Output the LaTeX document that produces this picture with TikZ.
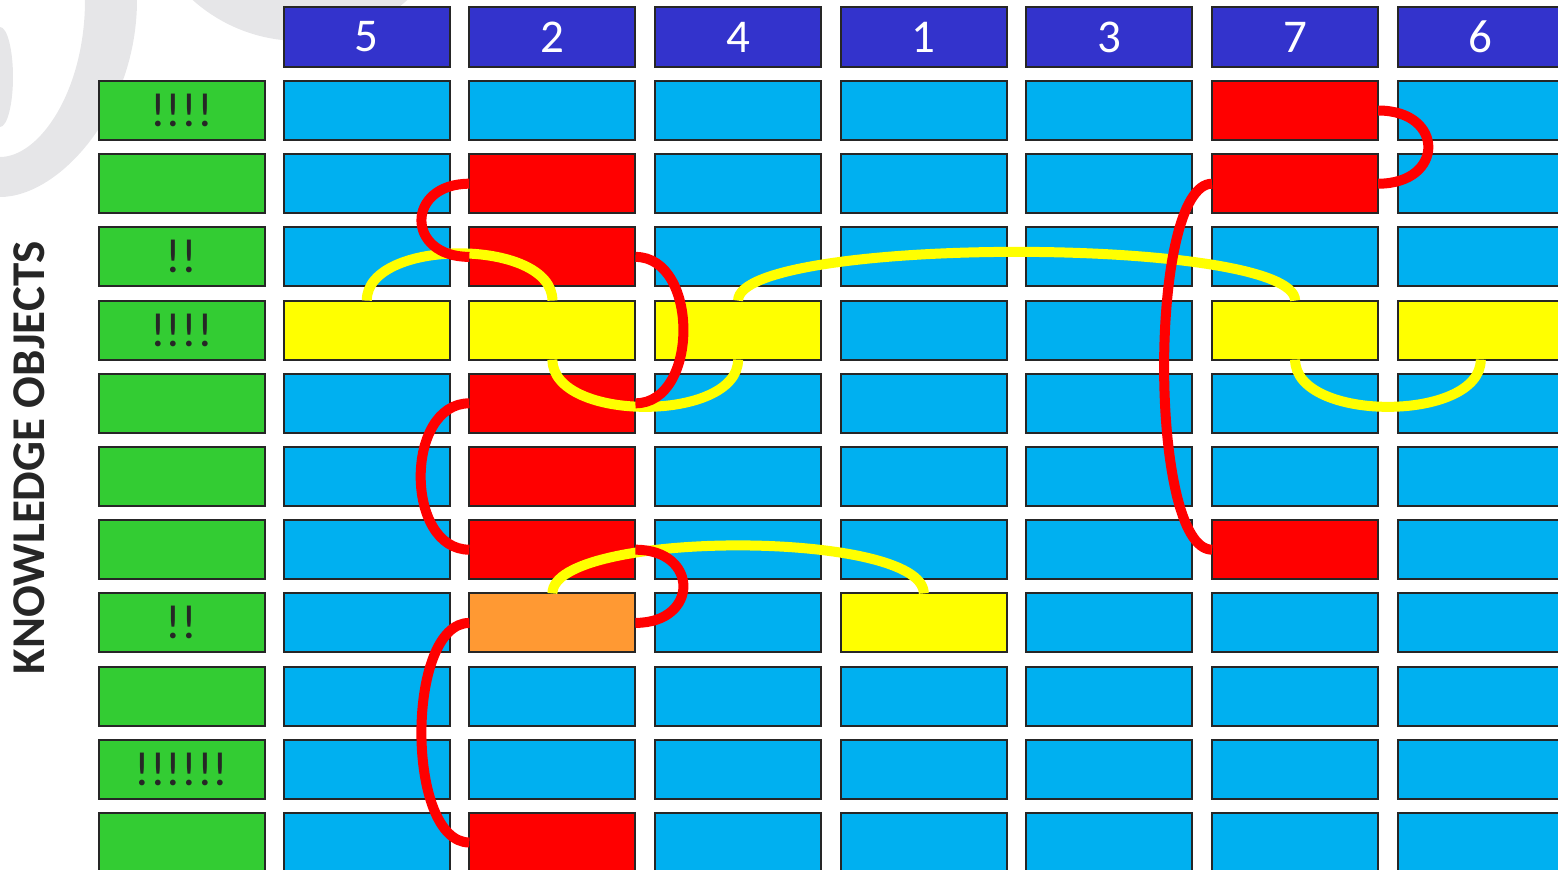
\documentclass[tikz,border=0pt]{standalone}
\usepackage{fontspec}
\setmainfont{Carlito}
\definecolor{hdr}{RGB}{51,51,204}
\definecolor{cellblue}{RGB}{0,176,240}
\definecolor{grn}{RGB}{51,204,51}
\definecolor{rd}{RGB}{255,0,0}
\definecolor{yl}{RGB}{255,255,0}
\definecolor{org}{RGB}{255,153,51}
\definecolor{wm}{RGB}{230,230,232}
\definecolor{edgec}{RGB}{38,38,38}
\tikzset{
  basebox/.style={draw=edgec, line width=2pt, minimum width=166pt, minimum height=59pt, inner sep=0pt, outer sep=0pt},
  cellbox/.style={basebox, fill=cellblue},
  hdrbox/.style={basebox, minimum height=60pt, fill=hdr, text=white, font=\fontsize{47}{47}\selectfont},
  grnbox/.style={basebox, fill=grn, text=edgec, font=\fontsize{48}{48}\selectfont},
  redlink/.style={draw=rd, line width=10pt},
  yellink/.style={draw=yl, line width=10pt},
  cc-5-0/.style={fill=rd}, cc-5-1/.style={fill=rd}, cc-1-1/.style={fill=rd},
  cc-1-2/.style={fill=rd}, cc-1-4/.style={fill=rd}, cc-1-5/.style={fill=rd},
  cc-1-6/.style={fill=rd}, cc-5-6/.style={fill=rd}, cc-1-10/.style={fill=rd},
  cc-1-7/.style={fill=org},
  cc-0-3/.style={fill=yl}, cc-1-3/.style={fill=yl}, cc-2-3/.style={fill=yl},
  cc-5-3/.style={fill=yl}, cc-6-3/.style={fill=yl}, cc-3-7/.style={fill=yl},
}
\begin{document}
\begin{tikzpicture}[x=1pt,y=-1pt]
\useasboundingbox (0,0) rectangle (1558,870);
\clip (0,0) rectangle (1558,870);
% watermark
\fill[wm] (300,-120) circle[radius=161];
\fill[wm] (85,-10) -- (85,0) .. controls (85,90) and (40,157) .. (0,157) -- (-10,157) -- (-10,197)
  -- (0,197) .. controls (60,197) and (137,110) .. (137,0) -- (137,-10) -- cycle;
\fill[wm] (0,77) ellipse[x radius=13, y radius=50];
% label
\node[rotate=90, anchor=base, text=edgec, font=\bfseries\fontsize{47}{47}\selectfont] (ko) at (44,458) {KNOWLEDGE OBJECTS};
% green column
\foreach \lab [count=\ii from 0] in {!!!!,,!!,!!!!,,,,!!,,!!!!!!,} {
  \pgfmathsetmacro{\cy}{110.5+73.2*\ii}
  \node[grnbox] (g-\ii) at (181.5,\cy) {\lab};
}
% grid
\foreach \lab [count=\kk from 0] in {5,2,4,1,3,7,6} {
  \pgfmathsetmacro{\cx}{366.75+185.67*\kk}
  \node[hdrbox] (h-\kk) at (\cx,37) {\lab};
  \foreach \i in {0,...,10} {
    \pgfmathsetmacro{\cy}{110.5+73.2*\i}
    \node[cellbox, cc-\kk-\i/.try] (c-\kk-\i) at (\cx,\cy) {};
  }
}
% yellow links
\draw[yellink] (c-0-3.north) .. controls +(0,-63) and +(0,-63) .. (c-1-3.north);
\draw[yellink] (c-1-3.south) .. controls +(0,63) and +(0,63) .. (c-2-3.south);
\draw[yellink] (c-2-3.north) .. controls +(0,-65) and +(0,-65) .. (c-5-3.north);
\draw[yellink] (c-5-3.south) .. controls +(0,63) and +(0,63) .. (c-6-3.south);
\draw[yellink] (c-1-7.north) .. controls +(0,-64) and +(0,-64) .. (c-3-7.north);
% red links
\draw[redlink] (c-5-0.east) .. controls +(67,0) and +(67,0) .. (c-5-1.east);
\draw[redlink] (c-5-1.west) .. controls +(-64,0) and +(-64,0) .. (c-5-6.west);
\draw[redlink] (c-1-1.west) .. controls +(-64,0) and +(-64,0) .. (c-1-2.west);
\draw[redlink] (c-1-2.east) .. controls +(64,0) and +(64,0) .. (c-1-4.east);
\draw[redlink] (c-1-4.west) .. controls +(-65,0) and +(-65,0) .. (c-1-6.west);
\draw[redlink] (c-1-6.east) .. controls +(64,0) and +(64,0) .. (c-1-7.east);
\draw[redlink] (c-1-7.west) .. controls +(-64,0) and +(-64,0) .. (c-1-10.west);
\end{tikzpicture}
\end{document}
